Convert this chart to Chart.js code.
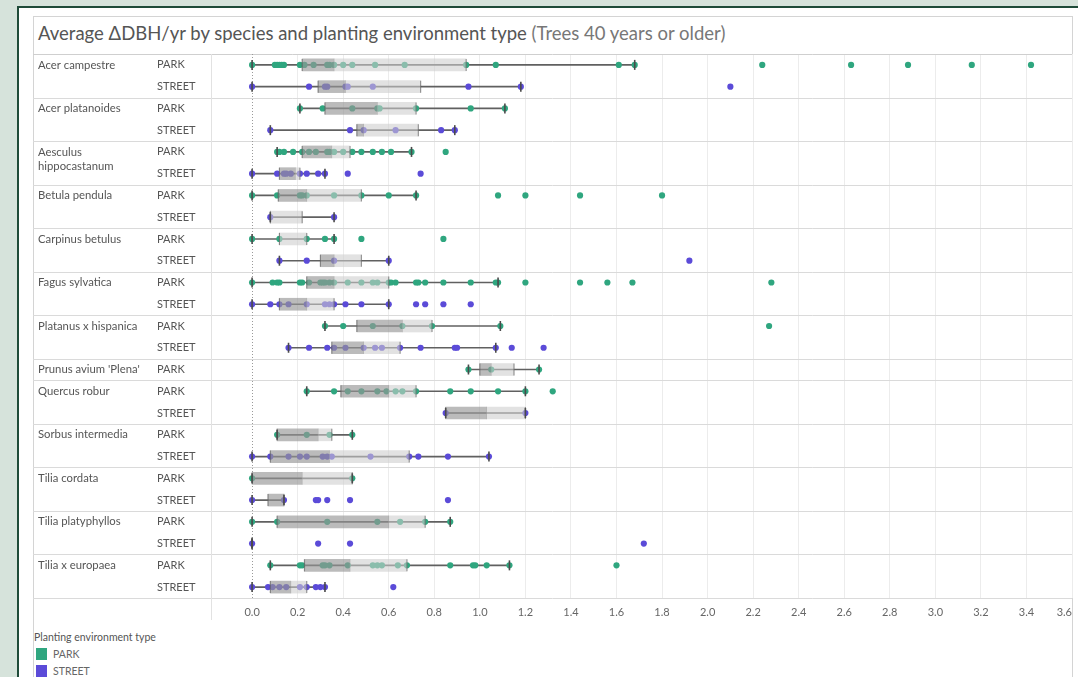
<!DOCTYPE html>
<html>
<head>
<meta charset="utf-8">
<script src="https://cdn.jsdelivr.net/npm/chart.js@4"></script>
<style>
  html, body { margin: 0; padding: 0; }
  body { width: 1078px; height: 677px; overflow: hidden; background: #d6e3db; position: relative; font-family: Lato, "Open Sans", sans-serif; }
  #frame { position: absolute; left: 17px; top: 6px; right: 0; bottom: 0; background: #fff; border-left: 2px solid #1f4b39; border-top: 2px solid #1f4b39; }
  #panel { position: absolute; left: 33px; top: 16px; width: 1038px; height: 700px; border: 1px solid #d4d4d4; }
  #title { position: absolute; left: 38px; top: 22px; font-size: 18.5px; color: #555; white-space: nowrap; }
  #title span { color: #777; }
  #wrap { position: absolute; left: 33px; top: 54px; }
  #legend { position: absolute; left: 34px; top: 631px; font-size: 10.5px; color: #555; }
  #legend .it { display: flex; align-items: center; height: 17px; color: #666; }
  #legend .sw { width: 11px; height: 12px; margin: 0 6px 0 2px; }
</style>
</head>
<body>
<div id="frame"></div>
<div id="panel"></div>
<div id="title">Average ΔDBH/yr by species and planting environment type <span>(Trees 40 years or older)</span></div>
<div id="wrap"><canvas id="c" width="1045" height="571"></canvas></div>
<div id="legend">
  <div style="margin-bottom:2px">Planting environment type</div>
  <div class="it"><div class="sw" style="background:#2fa67f"></div>PARK</div>
  <div class="it"><div class="sw" style="background:#5b4bd8"></div>STREET</div>
</div>
<script>
// ---- data ----
const speciesLabels = ['Acer campestre', 'Acer platanoides', ['Aesculus', 'hippocastanum'], 'Betula pendula',
  'Carpinus betulus', 'Fagus sylvatica', 'Platanus x hispanica', "Prunus avium 'Plena'", 'Quercus robur',
  'Sorbus intermedia', 'Tilia cordata', 'Tilia platyphyllos', 'Tilia x europaea'];

const rowSpecies = [0, 0, 1, 1, 2, 2, 3, 3, 4, 4, 5, 5, 6, 6, 7, 8, 8, 9, 9, 10, 10, 11, 11, 12, 12];
const rowEnv = ['PARK', 'STREET', 'PARK', 'STREET', 'PARK', 'STREET', 'PARK', 'STREET', 'PARK', 'STREET',
  'PARK', 'STREET', 'PARK', 'STREET', 'PARK', 'PARK', 'STREET', 'PARK', 'STREET', 'PARK', 'STREET',
  'PARK', 'STREET', 'PARK', 'STREET'];

const whiskerLow  = [0, 0, 0.21, 0.08, 0.11, 0, 0, 0.08, 0, 0.12, 0, 0, 0.32, 0.16, 0.95, 0.24, 0.85, 0.11, 0, 0, 0, 0, 0, 0.08, 0];
const q1          = [0.22, 0.29, 0.32, 0.46, 0.22, 0.12, 0.115, 0.08, 0.12, 0.30, 0.24, 0.12, 0.46, 0.35, 1.0, 0.39, 0.85, 0.11, 0.08, 0, 0.07, 0.11, 0, 0.23, 0.08];
const median      = [0.36, 0.41, 0.55, 0.49, 0.35, 0.19, 0.24, 0.08, 0.12, 0.36, 0.36, 0.24, 0.66, 0.49, 1.05, 0.60, 1.03, 0.29, 0.34, 0.22, 0.14, 0.60, 0, 0.43, 0.17];
const q3          = [0.94, 0.74, 0.72, 0.73, 0.43, 0.21, 0.48, 0.22, 0.24, 0.48, 0.60, 0.36, 0.79, 0.65, 1.15, 0.72, 1.20, 0.35, 0.69, 0.44, 0.14, 0.76, 0, 0.68, 0.24];
const whiskerHigh = [1.68, 1.18, 1.11, 0.89, 0.70, 0.32, 0.72, 0.36, 0.36, 0.60, 1.08, 0.60, 1.09, 1.07, 1.26, 1.20, 1.20, 0.44, 1.04, 0.44, 0.14, 0.87, 0, 1.13, 0.32];

const rowPoints = [
  [0, 0.10, 0.11, 0.12, 0.13, 0.14, 0.21, 0.23, 0.27, 0.33, 0.34, 0.36, 0.40, 0.44, 0.54, 0.67, 0.94, 1.07, 1.61, 1.68, 2.24, 2.63, 2.88, 3.16, 3.42],
  [0, 0.25, 0.32, 0.33, 0.41, 0.42, 0.53, 0.95, 1.18, 2.10],
  [0.21, 0.31, 0.44, 0.55, 0.56, 0.72, 0.96, 1.11],
  [0.08, 0.43, 0.49, 0.63, 0.83, 0.89],
  [0.11, 0.12, 0.14, 0.18, 0.22, 0.25, 0.28, 0.33, 0.34, 0.36, 0.40, 0.44, 0.48, 0.53, 0.57, 0.61, 0.70, 0.85],
  [0, 0.11, 0.14, 0.15, 0.17, 0.21, 0.24, 0.29, 0.32, 0.42, 0.74],
  [0, 0.11, 0.21, 0.22, 0.24, 0.36, 0.48, 0.60, 0.72, 1.08, 1.20, 1.44, 1.80],
  [0.08, 0.36],
  [0, 0.12, 0.24, 0.32, 0.36, 0.48, 0.84],
  [0.12, 0.24, 0.36, 0.60, 1.92],
  [0, 0.09, 0.11, 0.12, 0.21, 0.22, 0.25, 0.30, 0.31, 0.32, 0.34, 0.36, 0.42, 0.48, 0.53, 0.55, 0.60, 0.61, 0.63, 0.72, 0.73, 0.76, 0.84, 0.96, 1.07, 1.08, 1.20, 1.44, 1.56, 1.67, 2.28],
  [0, 0.08, 0.12, 0.16, 0.24, 0.32, 0.34, 0.36, 0.41, 0.48, 0.60, 0.72, 0.76, 0.84, 0.96],
  [0.32, 0.40, 0.53, 0.66, 0.79, 1.09, 2.27],
  [0.16, 0.25, 0.33, 0.36, 0.41, 0.49, 0.54, 0.57, 0.65, 0.74, 0.89, 0.90, 1.07, 1.14, 1.28],
  [0.95, 1.05, 1.26],
  [0.24, 0.36, 0.42, 0.48, 0.55, 0.59, 0.63, 0.66, 0.72, 0.87, 0.96, 1.08, 1.20, 1.32],
  [0.85, 1.20],
  [0.11, 0.24, 0.34, 0.44],
  [0, 0.08, 0.16, 0.21, 0.24, 0.31, 0.33, 0.35, 0.52, 0.69, 0.73, 0.86, 1.04],
  [0, 0.44],
  [0, 0.14, 0.28, 0.29, 0.33, 0.43, 0.86],
  [0, 0.11, 0.33, 0.55, 0.65, 0.76, 0.87],
  [0, 0.29, 0.43, 1.72],
  [0.08, 0.21, 0.22, 0.31, 0.32, 0.34, 0.42, 0.53, 0.55, 0.57, 0.64, 0.68, 0.87, 0.97, 0.98, 1.03, 1.13, 1.60],
  [0, 0.07, 0.09, 0.12, 0.15, 0.21, 0.24, 0.28, 0.30, 0.32, 0.62]
];

const xTickLabels = ['0.0', '0.2', '0.4', '0.6', '0.8', '1.0', '1.2', '1.4', '1.6', '1.8', '2.0', '2.2', '2.4', '2.6', '2.8', '3.0', '3.2', '3.4', '3.6'];
const xMin = -0.176;
const xMax = 3.6;

// ---- colours ----
const envColor = { PARK: '#2fa67f', STREET: '#5b4bd8' };
const FONT = 'Lato, "Open Sans", sans-serif';

// ---- derived datasets ----
const rowIdx = rowEnv.map((_, i) => i);
const pointsFor = env => rowIdx.filter(i => rowEnv[i] === env)
  .flatMap(i => rowPoints[i].map(v => ({ x: v, y: i })));

const groupStarts = rowIdx.filter(i => i === 0 || rowSpecies[i] !== rowSpecies[i - 1]);

const speciesTicks = groupStarts.map(i => {
  const lab = speciesLabels[rowSpecies[i]];
  const lines = Array.isArray(lab) ? lab.length : 1;
  return { value: i + 0.33 * (lines - 1), lab: lab };
});

const noPadV = s => { s.paddingTop = 0; s.paddingBottom = 0; };

const separatorPlugin = {
  id: 'separators',
  beforeDatasetsDraw(chart) {
    const { ctx, chartArea, scales } = chart;
    const ys = scales.y, xs = scales.x;
    const rightEdge = chart.width - 6;
    ctx.save();
    ctx.lineWidth = 1;
    const bounds = groupStarts.map(i => i - 0.5).concat([rowEnv.length - 0.5]);
    bounds.forEach((b, k) => {
      const py = Math.min(Math.round(ys.getPixelForValue(b)) + 0.5, chart.height);
      ctx.strokeStyle = k === 0 ? '#cfcfcf' : '#dadada';
      ctx.beginPath(); ctx.moveTo(0, py); ctx.lineTo(rightEdge, py); ctx.stroke();
    });
    const px = Math.round(chartArea.left) - 0.5;
    ctx.strokeStyle = '#e2e2e2';
    ctx.beginPath(); ctx.moveTo(px, chartArea.top); ctx.lineTo(px, chartArea.bottom + 22); ctx.stroke();
    const zx = Math.round(xs.getPixelForValue(0)) + 0.5;
    ctx.strokeStyle = '#9a9a9a';
    ctx.setLineDash([1, 2]);
    ctx.beginPath(); ctx.moveTo(zx, chartArea.top); ctx.lineTo(zx, chartArea.bottom); ctx.stroke();
    ctx.restore();
  }
};

new Chart(document.getElementById('c'), {
  data: {
    datasets: [
      {
        type: 'bar', label: 'whisker', indexAxis: 'y', grouped: false, order: 10,
        data: rowIdx.map(i => ({ x: [whiskerLow[i], whiskerHigh[i]], y: i })),
        backgroundColor: '#606060', barThickness: 1, maxBarThickness: 1, borderWidth: 0
      },
      {
        type: 'scatter', label: 'PARK', order: 8,
        data: pointsFor('PARK'),
        backgroundColor: envColor.PARK, borderWidth: 0, pointRadius: 3.1
      },
      {
        type: 'scatter', label: 'STREET', order: 8,
        data: pointsFor('STREET'),
        backgroundColor: envColor.STREET, borderWidth: 0, pointRadius: 3.1
      },
      {
        type: 'bar', label: 'lower box', indexAxis: 'y', grouped: false, order: 6,
        data: rowIdx.map(i => ({ x: [q1[i], median[i]], y: i })),
        backgroundColor: 'rgba(150,150,150,0.65)', barThickness: 12, maxBarThickness: 12, borderWidth: 0
      },
      {
        type: 'bar', label: 'upper box', indexAxis: 'y', grouped: false, order: 6,
        data: rowIdx.map(i => ({ x: [median[i], q3[i]], y: i })),
        backgroundColor: 'rgba(205,205,205,0.58)', barThickness: 12, maxBarThickness: 12, borderWidth: 0
      },
      {
        type: 'scatter', label: 'box edges', order: 2,
        data: rowIdx.flatMap(i => [{ x: q1[i], y: i }, { x: q3[i], y: i }]),
        pointStyle: 'line', rotation: 90, pointRadius: 6, borderColor: 'rgba(80,80,80,0.55)', borderWidth: 1.2
      },
      {
        type: 'scatter', label: 'caps', order: 1,
        data: rowIdx.flatMap(i => [{ x: whiskerLow[i], y: i }, { x: whiskerHigh[i], y: i }]),
        pointStyle: 'line', rotation: 90, pointRadius: 5, borderColor: '#4a4a4a', borderWidth: 1.6
      }
    ]
  },
  options: {
    responsive: false,
    devicePixelRatio: 1,
    animation: false,
    events: [],
    layout: { autoPadding: false, padding: { left: 5, right: 6, top: 0, bottom: 0 } },
    plugins: { legend: { display: false }, tooltip: { enabled: false }, title: { display: false } },
    scales: {
      x: {
        type: 'linear', position: 'bottom', min: xMin, max: xMax, offset: false,
        afterBuildTicks: s => {
          s.ticks = [{ value: xMin, lab: '' }].concat(xTickLabels.map(t => ({ value: parseFloat(t), lab: t })));
        },
        afterFit: s => { s.height = 27; s.paddingLeft = 0; s.paddingRight = 0; },
        ticks: { autoSkip: false, maxRotation: 0, align: 'inner', padding: 8, color: '#666', font: { family: FONT, size: 11 },
          callback: (v, i, ticks) => ticks[i].lab },
        grid: { color: ctx => (ctx.tick && (ctx.tick.value === 0 || ctx.tick.value === xMin)) ? 'rgba(0,0,0,0)' : '#ececec', drawTicks: false, lineWidth: 1 },
        border: { display: false }
      },
      y: {
        type: 'linear', position: 'left', min: -0.5, max: rowEnv.length - 0.5, reverse: true, weight: 0,
        offset: false,
        afterBuildTicks: s => { s.ticks = rowIdx.map(i => ({ value: i, lab: rowEnv[i] })); },
        afterFit: s => { s.width = 55; noPadV(s); },
        ticks: { autoSkip: false, crossAlign: 'far', padding: 0, color: '#555', font: { family: FONT, size: 11 },
          callback: (v, i, ticks) => ticks[i].lab },
        grid: { display: false, drawTicks: false, offset: false },
        border: { display: false }
      },
      ys: {
        type: 'linear', position: 'left', min: -0.5, max: rowEnv.length - 0.5, reverse: true, weight: 1,
        offset: false,
        afterBuildTicks: s => { s.ticks = speciesTicks.map(t => ({ value: t.value, lab: t.lab })); },
        afterFit: s => { s.width = 119; noPadV(s); },
        ticks: { autoSkip: false, crossAlign: 'far', padding: 0, color: '#555', font: { family: FONT, size: 11.3, lineHeight: 1.25 },
          callback: (v, i, ticks) => ticks[i].lab },
        grid: { display: false, drawTicks: false },
        border: { display: false }
      }
    }
  },
  plugins: [separatorPlugin]
});
</script>
</body>
</html>
